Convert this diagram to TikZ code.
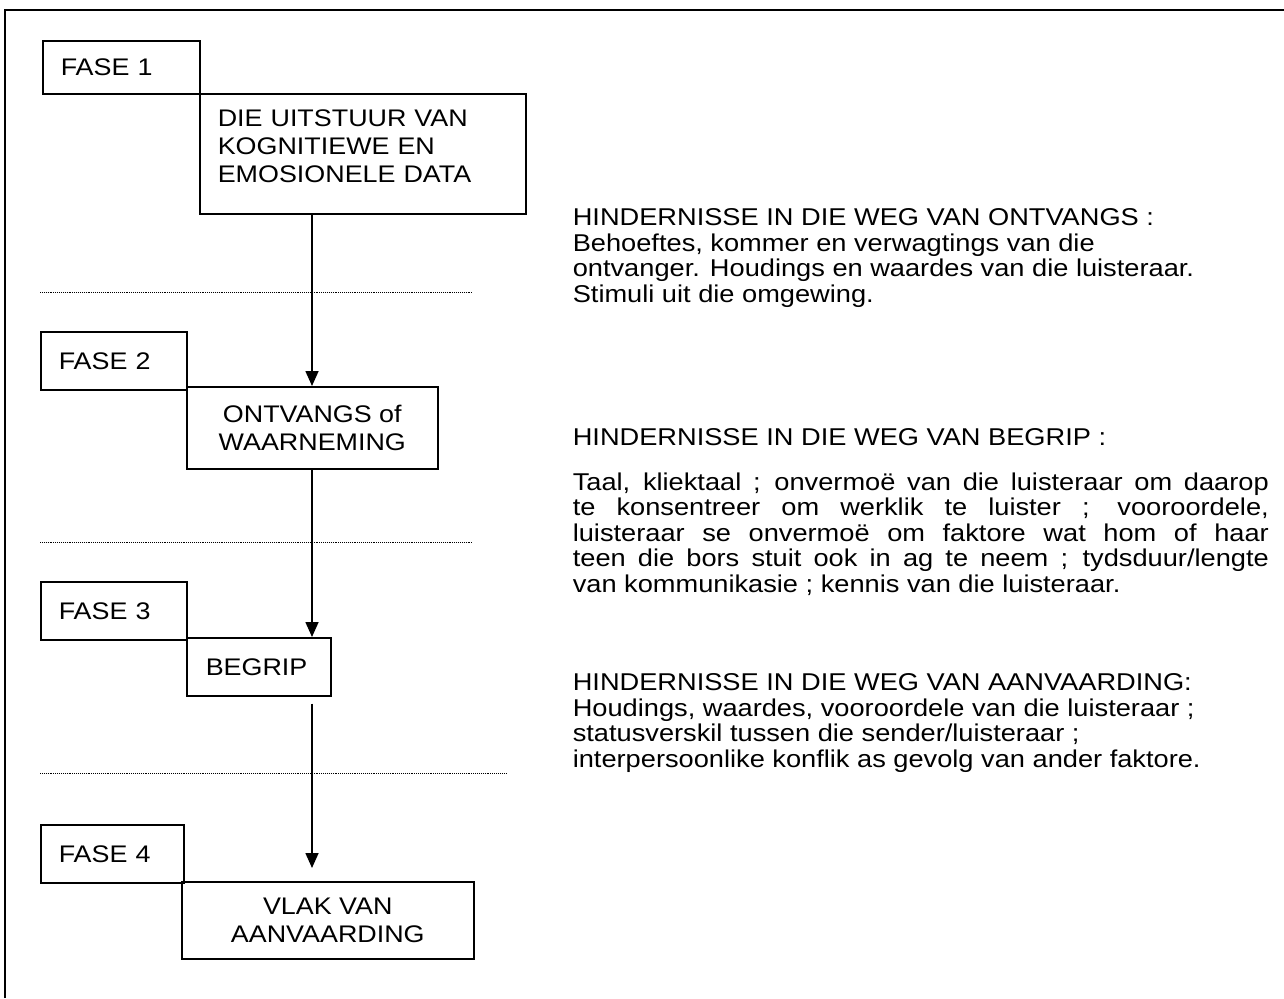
\documentclass[tikz,border=0pt]{standalone}
\usepackage{fontspec}
\setmainfont[FakeStretch=1.12]{Liberation Sans}
\usetikzlibrary{arrows.meta}

\begin{document}
\begin{tikzpicture}[x=1pt, y=-1pt, >={Triangle[width=13pt,length=15pt]},
                    line width=1.6pt, font=\fontsize{24}{28}\selectfont]

\tikzstyle{fase}  = [rectangle, draw, anchor=north west, inner xsep=18pt,
                     inner ysep=0pt, align=left]
\tikzstyle{stage} = [rectangle, draw, anchor=north west, inner sep=0pt,
                     align=center]
\tikzstyle{hint}  = [anchor=north west, inner sep=0pt, align=left,
                     font=\fontsize{24.3}{25.5}\selectfont]
\tikzstyle{split} = [line width=0.9pt, densely dotted]

\useasboundingbox (0,0) rectangle (1284,998);

% ── Frame ─────────────────────────────────────────────
\draw[line width=2.4pt] (5,998) -- (5,10) -- (1284,10);

% ── Left column: phases ──────────────────────────────
\node[fase, text width=121pt, minimum height=53pt] (f1) at (42,40)  {FASE 1};
\node[fase, text width=110pt, minimum height=58pt] (f2) at (40,331) {FASE 2};
\node[fase, text width=110pt, minimum height=58pt] (f3) at (40,581) {FASE 3};
\node[fase, text width=107pt, minimum height=58pt] (f4) at (40,824) {FASE 4};

\node[stage, align=left, inner xsep=18pt, text width=290pt, text depth=72pt,
      minimum height=120pt] (s1) at (199,93)
      {DIE UITSTUUR VAN\\KOGNITIEWE EN\\EMOSIONELE DATA};
\node[stage, minimum width=251pt, minimum height=82pt] (s2) at (186,386)
      {ONTVANGS of\\WAARNEMING};
\node[stage, align=left, inner xsep=19pt, text width=106pt,
      minimum height=58pt] (s3) at (186,637) {BEGRIP};
\node[stage, minimum width=292pt, minimum height=77pt] (s4) at (181,881)
      {VLAK VAN\\AANVAARDING};

\coordinate (axis) at (312,0);

% ── Dividers ─────────────────────────────────────────
\draw[split] (40,292) -- (473,292);
\draw[split] (40,542) -- (473,542);
\draw[split] (40,773) -- (506,773);

% ── Arrows ───────────────────────────────────────────
\draw[->] (s1.south -| axis) -- (s2.north -| axis);
\draw[->] (s2.south -| axis) -- (s3.north -| axis);
\draw[->, shorten <=7pt, shorten >=13pt] (s3.south -| axis) -- (s4.north -| axis);

% ── Right column: hindrances ─────────────────────────
\node[hint] (h1) at (572,208)
      {HINDERNISSE IN DIE WEG VAN ONTVANGS :\\
       Behoeftes, kommer en verwagtings van die\\
       ontvanger. Houdings en waardes van die luisteraar.\\
       Stimuli uit die omgewing.};
\node[hint] (h2) at (572,428) {HINDERNISSE IN DIE WEG VAN BEGRIP :};
\node[hint, text width=696pt, align=justify] (b2) at (572,472)
      {Taal, kliektaal ; onvermoë van die luisteraar om daarop\linebreak
       te konsentreer om werklik te luister ; vooroordele,\linebreak
       luisteraar se onvermoë om faktore wat hom of haar\linebreak
       teen die bors stuit ook in ag te neem ; tydsduur/lengte\linebreak
       van kommunikasie ; kennis van die luisteraar.};
\node[hint] (h3) at (572,673)
      {HINDERNISSE IN DIE WEG VAN AANVAARDING:\\
       Houdings, waardes, vooroordele van die luisteraar ;\\
       statusverskil tussen die sender/luisteraar ;\\
       interpersoonlike konflik as gevolg van ander faktore.};

\end{tikzpicture}
\end{document}
